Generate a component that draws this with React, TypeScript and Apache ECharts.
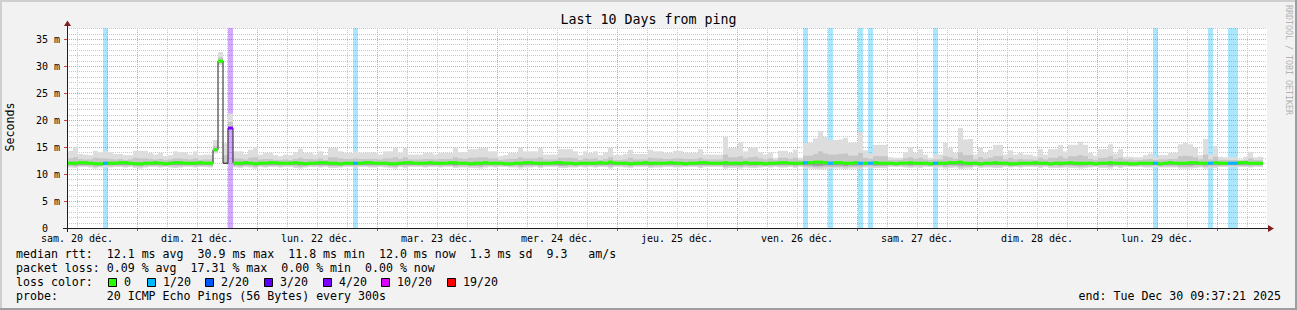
import React, { useEffect, useRef } from 'react';
import * as echarts from 'echarts';

// ---------- data (hourly buckets, values in ms) ----------
const dayLabels = [
  'sam. 20 déc.', 'dim. 21 déc.', 'lun. 22 déc.', 'mar. 23 déc.', 'mer. 24 déc.',
  'jeu. 25 déc.', 'ven. 26 déc.', 'sam. 27 déc.', 'dim. 28 déc.', 'lun. 29 déc.',
];

const median = [
  12.0,12.0,12.1,12.1,12.0,11.9,11.9,12.0,12.0,12.0,12.1,12.1,12.0,11.9,11.9,12.0,12.0,12.1,12.0,11.9,12.0,12.1,12.1,12.0,
  12.0,12.0,12.1,12.0,12.0,14.5,30.9,12.0,18.5,12.0,12.0,12.1,12.0,11.9,12.0,12.0,12.1,12.1,12.0,12.0,12.0,12.1,12.0,11.9,
  12.0,12.0,12.1,12.1,12.0,12.0,11.9,12.0,12.0,12.0,12.0,12.1,12.1,12.0,12.0,12.0,11.9,11.9,12.0,12.1,12.1,12.0,12.0,12.0,
  12.1,12.0,12.0,12.0,12.1,12.1,12.0,12.0,11.9,12.0,12.0,12.1,12.0,12.0,12.0,11.9,11.9,12.0,12.0,12.1,12.1,12.0,12.0,12.0,
  12.0,12.1,12.1,12.0,12.0,11.9,12.0,12.0,12.0,12.0,12.1,12.0,12.2,12.0,12.0,12.0,11.9,12.0,12.0,12.1,12.0,12.0,12.0,12.0,
  12.1,12.0,12.0,11.9,12.0,12.0,12.1,12.1,12.0,12.0,12.0,12.1,12.0,12.0,12.0,12.1,12.0,12.0,12.0,11.9,12.0,12.0,12.1,12.1,
  12.0,12.0,12.0,12.1,12.1,12.2,12.2,12.1,12.0,12.1,12.1,12.0,12.0,12.1,12.0,12.0,12.0,12.1,12.0,12.0,12.0,11.9,12.0,12.0,
  12.1,12.0,12.0,12.0,11.9,12.0,12.0,12.0,12.1,12.1,12.2,12.0,12.0,12.0,11.9,12.0,12.0,12.1,12.0,12.0,11.9,11.9,12.0,12.0,
  12.0,12.1,12.0,12.0,11.9,12.0,12.0,12.0,12.1,12.0,12.0,12.0,12.0,11.9,12.0,12.0,12.1,12.0,12.0,12.0,11.9,11.9,12.0,12.0,
  12.0,12.0,11.9,12.0,12.1,12.0,12.0,12.0,12.1,12.1,12.0,12.0,12.0,12.1,12.0,12.0,12.0,12.0,12.1,12.1,12.0,12.0,12.0,
];

const smokeLo = [
  11.2,11.1,11.3,11.3,11.2,11.0,11.2,11.3,11.2,11.3,11.3,11.2,11.3,11.1,11.0,11.2,11.3,11.3,11.2,11.3,11.2,11.1,11.2,11.3,
  11.3,11.2,11.3,11.3,11.2,13.8,30.2,11.8,18.2,11.2,11.1,11.3,11.2,11.0,11.3,11.2,11.3,11.3,11.2,11.3,11.3,11.1,11.0,11.2,
  11.3,11.3,11.2,11.3,11.1,11.1,11.2,11.3,11.3,11.2,11.3,11.3,11.2,11.2,11.3,11.2,11.1,11.0,11.3,11.1,11.3,11.3,11.3,11.2,
  11.3,11.3,11.2,11.3,11.3,11.1,11.2,11.2,11.1,11.1,11.0,11.2,11.3,11.2,11.3,11.3,11.2,11.2,11.0,11.2,11.2,11.3,11.1,11.3,
  11.3,11.3,11.1,11.1,11.2,11.2,11.3,11.2,11.3,11.2,11.3,11.3,11.0,11.3,11.3,11.2,11.1,11.3,11.3,11.3,11.1,11.2,11.2,11.3,
  11.3,11.2,11.2,11.3,11.3,11.3,11.1,11.3,11.3,11.3,11.3,11.0,11.1,11.1,11.0,11.2,11.1,11.1,11.2,11.3,11.2,11.3,11.2,11.2,
  11.3,11.1,11.3,11.0,11.0,10.9,10.8,10.9,11.0,11.0,11.0,10.9,11.0,11.0,10.9,11.2,11.2,11.1,11.1,11.1,11.3,11.3,11.3,11.2,
  11.1,11.2,11.1,11.3,11.3,11.2,11.2,11.0,11.1,11.2,10.9,11.0,11.0,11.3,11.1,11.2,11.2,11.1,11.1,11.3,11.2,11.3,11.2,11.3,
  11.3,11.3,11.1,11.3,11.1,11.1,11.1,11.2,11.1,11.1,11.0,11.1,11.2,11.3,11.1,11.1,11.0,11.3,11.1,11.3,11.3,11.3,11.3,11.2,
  11.2,11.3,11.2,11.2,11.2,11.2,11.0,11.0,11.0,11.1,11.2,11.0,11.2,11.1,11.3,11.3,11.3,11.3,11.3,11.3,11.2,11.3,11.3,
];

const midLo = [
  11.4,11.4,11.5,11.5,11.4,11.3,11.4,11.5,11.4,11.5,11.5,11.4,11.5,11.4,11.3,11.4,11.5,11.5,11.4,11.5,11.4,11.4,11.4,11.5,
  11.5,11.4,11.5,11.5,11.4,14.1,30.5,11.9,18.3,11.4,11.4,11.5,11.4,11.3,11.5,11.4,11.5,11.5,11.4,11.5,11.5,11.4,11.3,11.4,
  11.5,11.5,11.4,11.5,11.4,11.4,11.4,11.5,11.5,11.4,11.5,11.5,11.4,11.4,11.5,11.4,11.4,11.3,11.5,11.4,11.5,11.5,11.5,11.4,
  11.5,11.5,11.4,11.5,11.5,11.4,11.4,11.4,11.4,11.4,11.3,11.4,11.5,11.4,11.5,11.5,11.4,11.4,11.3,11.4,11.4,11.5,11.4,11.5,
  11.5,11.5,11.4,11.4,11.4,11.4,11.5,11.4,11.5,11.4,11.5,11.5,11.3,11.5,11.5,11.4,11.4,11.5,11.5,11.5,11.4,11.4,11.4,11.5,
  11.5,11.4,11.4,11.5,11.5,11.5,11.4,11.5,11.5,11.5,11.5,11.3,11.4,11.4,11.3,11.4,11.4,11.4,11.4,11.5,11.4,11.5,11.4,11.4,
  11.5,11.4,11.5,11.3,11.3,11.2,11.2,11.3,11.3,11.3,11.3,11.2,11.3,11.3,11.2,11.4,11.4,11.4,11.4,11.4,11.5,11.5,11.5,11.4,
  11.4,11.4,11.4,11.5,11.5,11.4,11.4,11.3,11.4,11.4,11.2,11.3,11.3,11.5,11.4,11.4,11.4,11.4,11.4,11.5,11.4,11.5,11.4,11.5,
  11.5,11.5,11.4,11.5,11.4,11.4,11.4,11.4,11.4,11.4,11.3,11.4,11.4,11.5,11.4,11.4,11.3,11.5,11.4,11.5,11.5,11.5,11.5,11.4,
  11.4,11.5,11.4,11.4,11.4,11.4,11.3,11.3,11.3,11.4,11.4,11.3,11.4,11.4,11.5,11.5,11.5,11.5,11.5,11.5,11.4,11.5,11.5,
];

const darkLo = [
  11.7,11.6,11.7,11.7,11.7,11.6,11.6,11.7,11.7,11.7,11.7,11.7,11.7,11.6,11.6,11.7,11.7,11.7,11.7,11.6,11.7,11.7,11.7,11.7,
  11.7,11.7,11.7,11.7,11.7,14.3,30.7,11.9,18.4,11.7,11.6,11.7,11.7,11.6,11.7,11.7,11.7,11.7,11.7,11.7,11.7,11.7,11.6,11.6,
  11.7,11.7,11.7,11.7,11.6,11.6,11.6,11.7,11.7,11.7,11.7,11.7,11.7,11.7,11.7,11.7,11.6,11.6,11.7,11.7,11.7,11.7,11.7,11.7,
  11.7,11.7,11.7,11.7,11.7,11.6,11.7,11.7,11.6,11.6,11.6,11.7,11.7,11.7,11.7,11.6,11.6,11.7,11.6,11.7,11.7,11.7,11.6,11.7,
  11.7,11.7,11.6,11.6,11.7,11.6,11.7,11.7,11.7,11.7,11.7,11.7,11.7,11.7,11.7,11.7,11.6,11.7,11.7,11.7,11.6,11.7,11.7,11.7,
  11.7,11.7,11.7,11.6,11.7,11.7,11.7,11.7,11.7,11.7,11.7,11.6,11.6,11.6,11.6,11.7,11.6,11.6,11.7,11.6,11.7,11.7,11.7,11.7,
  11.7,11.6,11.7,11.6,11.6,11.5,11.5,11.6,11.6,11.6,11.6,11.5,11.6,11.6,11.6,11.7,11.7,11.6,11.6,11.6,11.7,11.6,11.7,11.7,
  11.6,11.7,11.7,11.7,11.6,11.7,11.7,11.6,11.7,11.7,11.6,11.6,11.6,11.7,11.6,11.7,11.7,11.7,11.7,11.7,11.6,11.6,11.7,11.7,
  11.7,11.7,11.7,11.7,11.6,11.7,11.6,11.7,11.7,11.6,11.6,11.6,11.7,11.6,11.7,11.7,11.6,11.7,11.7,11.7,11.6,11.6,11.7,11.7,
  11.7,11.7,11.6,11.7,11.7,11.7,11.6,11.6,11.6,11.7,11.7,11.6,11.7,11.7,11.7,11.7,11.7,11.7,11.7,11.7,11.7,11.7,11.7,
];

const midHi = [
  12.9,13.1,12.8,12.7,12.7,13.0,12.9,12.9,12.8,12.7,12.8,12.6,12.7,13.0,12.9,12.9,12.8,12.7,12.8,12.6,12.7,12.9,12.9,12.8,
  12.7,12.9,12.6,12.7,12.7,15.2,31.6,13.5,19.6,12.9,12.9,12.7,13.0,13.1,12.7,12.8,12.8,12.6,12.6,12.7,12.6,12.8,13.0,12.8,
  12.8,12.7,12.9,12.6,13.1,13.1,12.9,12.8,12.8,12.9,12.8,12.8,12.8,12.8,12.7,12.9,12.9,13.1,12.8,13.1,12.7,12.7,12.7,12.8,
  12.8,12.7,12.8,12.8,12.8,13.1,12.9,12.8,13.0,13.0,13.1,13.1,12.9,12.9,12.6,12.7,12.8,12.8,13.1,12.9,12.9,12.9,13.1,12.7,
  12.7,12.7,13.0,13.0,13.0,12.9,12.6,12.9,12.8,12.9,12.6,12.8,13.1,12.6,12.6,12.7,13.0,12.7,12.7,12.7,13.0,12.9,12.9,12.8,
  12.8,12.9,12.9,12.8,12.8,12.8,13.0,12.7,12.7,12.7,12.7,13.6,13.1,13.1,13.3,12.9,13.1,13.2,12.9,12.7,12.9,12.6,13.0,13.0,
  12.8,13.0,12.6,13.4,13.4,13.7,14.2,13.8,13.6,13.6,13.7,13.8,13.4,13.4,13.9,13.0,12.8,13.3,13.3,13.3,12.6,12.6,12.6,12.9,
  13.1,12.8,13.0,12.7,12.6,12.7,12.7,13.3,13.1,12.8,14.0,13.5,13.5,12.7,13.1,12.8,13.0,13.3,13.3,12.7,13.0,12.7,12.8,12.7,
  12.7,12.6,13.0,12.7,13.0,13.0,13.3,12.9,13.3,13.3,13.5,13.3,12.8,12.6,13.0,13.0,13.3,12.8,13.0,12.7,12.7,12.6,12.6,12.7,
  12.8,12.6,12.7,12.7,12.8,12.8,13.3,13.4,13.3,13.1,12.7,13.6,12.7,13.2,12.6,12.6,12.6,12.6,12.5,12.6,12.9,12.6,12.6,
];

const smokeHi = [
  14.3,15.0,13.7,13.6,13.5,14.3,14.0,14.3,14.0,13.7,13.7,13.5,13.5,14.3,14.3,14.3,13.9,13.6,13.9,13.3,13.5,14.2,14.0,14.0,
  13.6,14.2,13.5,13.6,13.6,16.3,32.6,15.7,21.2,14.2,14.2,13.7,14.5,15.0,13.6,13.9,13.9,13.5,13.3,13.6,13.5,14.0,14.7,13.9,
  13.9,13.6,14.2,13.5,14.8,14.8,14.2,13.9,13.9,14.2,13.9,14.0,14.0,13.9,13.6,14.2,14.2,14.9,13.9,14.9,13.6,13.6,13.6,13.9,
  13.9,13.6,13.9,13.9,13.9,14.9,14.0,14.0,14.6,14.6,14.8,14.8,14.2,14.2,13.3,13.5,13.9,13.9,14.9,14.2,14.2,14.2,14.8,13.6,
  13.6,13.6,14.6,14.6,14.6,14.2,13.5,14.2,13.9,14.2,13.5,14.0,14.9,13.5,13.5,13.7,14.5,13.7,13.7,13.7,14.5,14.2,14.2,13.9,
  13.9,14.3,14.3,13.9,13.9,13.9,14.6,13.6,13.6,13.6,13.6,16.9,14.8,14.8,15.9,14.2,14.9,15.0,14.0,13.6,14.0,13.0,14.3,14.3,
  13.9,14.5,13.0,15.8,15.8,16.6,18.0,16.9,16.3,16.3,16.4,16.7,15.8,15.8,17.8,14.4,13.8,15.4,15.4,15.4,13.1,13.0,13.0,14.0,
  15.0,13.9,14.6,13.6,13.0,13.6,13.6,15.8,14.8,13.9,18.5,16.4,16.5,13.6,14.9,13.9,14.5,15.4,15.4,13.6,14.4,13.6,13.9,13.6,
  13.6,13.3,14.6,13.6,14.6,14.6,15.4,14.2,15.4,15.4,16.0,15.4,13.9,13.4,14.6,14.6,15.5,13.8,14.6,13.2,13.2,13.1,13.1,13.5,
  13.8,13.1,13.5,13.5,13.9,13.9,15.5,15.8,15.5,14.9,13.5,16.5,13.6,15.2,13.2,13.1,13.1,13.1,12.7,13.2,14.1,13.1,13.2,
];

// hours (buckets) with packet loss, and the loss class of each
const lossBuckets = [7, 32, 57, 147, 152, 158, 160, 173, 217, 228, 232, 233];
const lossClass = [1, 4, 1, 1, 1, 1, 1, 1, 1, 1, 1, 1];
const bandGaps = [31];

const lossLegend = ['0', '1/20', '2/20', '3/20', '4/20', '10/20', '19/20'];
const lossColors = ['#26ff00', '#00b8ff', '#0059ff', '#5e00ff', '#7e00ff', '#dd00ff', '#ff0000'];

const statLines = [
  'median rtt:  12.1 ms avg  30.9 ms max  11.8 ms min  12.0 ms now  1.3 ms sd  9.3   am/s',
  'packet loss: 0.09 % avg  17.31 % max  0.00 % min  0.00 % now',
  'loss color:',
  'probe:       20 ICMP Echo Pings (56 Bytes) every 300s',
];
const endText = 'end: Tue Dec 30 09:37:21 2025';
const titleText = 'Last 10 Days from ping';

// ---------- layout / style constants ----------
const FONT = 'DejaVu Sans Mono';
const X_MAX = 240; // hours shown
const Y_MAX = 37.04;
const BUCKET0 = 0.2; // first bucket start (hours from left edge)
const BAND_HALF = 0.28;
const MINOR = '#c8c8c8';
const MAJOR = '#e69c9c';
const X_GRID_FIRST = 2; // hours
const X_GRID_STEP = 6;
const X_MAJOR_FIRST = 14;
const X_MAJOR_STEP = 24;
const Y_MAJOR_STEP = 5;
const legendBoxX = [108, 147, 205, 264, 323, 381, 447];

const nb = (s: string) => s.replace(/ /g, '\u00a0');

function txt(x: number, y: number, text: string, size: number, extra: any = {}) {
  const align = extra.align || 'left';
  const st: any = {
    text: nb(text), fontFamily: FONT, fontSize: size, fill: extra.fill || '#000',
    align, textAlign: align, verticalAlign: 'middle', textVerticalAlign: 'middle',
  };
  return { type: 'text', x, y, rotation: extra.rotation || 0, silent: true, z: 100, style: st };
}

function rectRender(fillFor: (api: any) => string) {
  return (params: any, api: any) => {
    const x0 = api.value(0);
    const lo = api.value(1);
    const hi = api.value(2);
    const a = api.coord([x0, hi]);
    const b = api.coord([x0 + 1, lo]);
    return {
      type: 'rect',
      shape: { x: a[0], y: a[1], width: b[0] - a[0], height: b[1] - a[1] },
      style: { fill: fillFor(api) },
    };
  };
}

function buildOption() {
  const n = median.length;
  const lightData = median.map((_, i) => [BUCKET0 + i, smokeLo[i], smokeHi[i]]);
  const midData = median.map((_, i) => [BUCKET0 + i, midLo[i], midHi[i]]);
  const darkData = median.map((m, i) => [BUCKET0 + i, darkLo[i], m]);
  const lossData = lossBuckets.map((b, k) => [BUCKET0 + b, 0, Y_MAX, lossClass[k]]);
  const bandData: number[][] = [];
  median.forEach((m, i) => {
    if (bandGaps.indexOf(i) >= 0) return;
    const li = lossBuckets.indexOf(i);
    const cls = li >= 0 ? lossClass[li] : 0;
    bandData.push([BUCKET0 + i, m - BAND_HALF, m + BAND_HALF, cls]);
  });
  const linePts = median.map((m, i) => [BUCKET0 + i, m]);
  linePts.push([BUCKET0 + n, median[n - 1]]);

  // grid line positions (axis ticks)
  const vLines: number[][] = [];
  for (let h = X_GRID_FIRST; h < X_MAX; h += X_GRID_STEP) {
    vLines.push([h, (h - X_MAJOR_FIRST) % X_MAJOR_STEP === 0 ? 1 : 0]);
  }
  const hLines: number[][] = [];
  for (let v = 1; v <= Math.floor(Y_MAX); v += 1) {
    hLines.push([v, v % Y_MAJOR_STEP === 0 ? 1 : 0]);
  }

  const graphics: any[] = [
    { type: 'rect', shape: { x: 0, y: 0, width: 1297, height: 2 }, style: { fill: '#cfcfcf' }, silent: true },
    { type: 'rect', shape: { x: 0, y: 0, width: 2, height: 310 }, style: { fill: '#cfcfcf' }, silent: true },
    { type: 'rect', shape: { x: 0, y: 308, width: 1297, height: 2 }, style: { fill: '#9e9e9e' }, silent: true },
    { type: 'rect', shape: { x: 1295, y: 0, width: 2, height: 310 }, style: { fill: '#9e9e9e' }, silent: true },
    { type: 'line', z: 100, silent: true, shape: { x1: 63, y1: 228.5, x2: 1270, y2: 228.5 }, style: { stroke: '#1f1f1f', lineWidth: 1 } },
    { type: 'line', z: 100, silent: true, shape: { x1: 67.5, y1: 232, x2: 67.5, y2: 24 }, style: { stroke: '#1f1f1f', lineWidth: 1 } },
    { type: 'polygon', z: 101, silent: true, shape: { points: [[1268, 225], [1274, 228.5], [1268, 232]] }, style: { fill: '#7f1f1f' } },
    { type: 'polygon', z: 101, silent: true, shape: { points: [[64, 26], [67.5, 20.5], [71, 26]] }, style: { fill: '#7f1f1f' } },
    txt(648.5, 19, titleText, 13.3, { align: 'center' }),
    txt(10, 127, 'Seconds', 11.6, { align: 'center', rotation: Math.PI / 2 }),
    txt(1288.5, 60, 'RRDTOOL / TOBI OETIKER', 8.3, { align: 'center', rotation: -Math.PI / 2, fill: '#b3b3b3' }),
    txt(16, 254, statLines[0], 11.6),
    txt(16, 268, statLines[1], 11.6),
    txt(16, 282, statLines[2], 11.6),
    txt(16, 296, statLines[3], 11.6),
    txt(1281, 296, endText, 11.6, { align: 'right' }),
  ];
  lossLegend.forEach((lab, k) => {
    const bx = legendBoxX[k];
    graphics.push({
      type: 'rect', z: 100, silent: true,
      shape: { x: bx + 0.5, y: 278.5, width: 8, height: 8 },
      style: { fill: lossColors[k], stroke: '#000', lineWidth: 1 },
    });
    graphics.push(txt(bx + 16, 282, lab, 11.6));
  });

  return {
    animation: false,
    backgroundColor: '#f2f2f2',
    grid: { left: 67, top: 28, width: 1200, height: 200, show: true, backgroundColor: '#ffffff', borderWidth: 0 },
    xAxis: {
      type: 'value', min: 0, max: X_MAX, interval: 2,
      axisLine: { show: false }, axisTick: { show: false }, splitLine: { show: false },
      axisLabel: {
        margin: 5, fontFamily: FONT, fontSize: 10, color: '#000', hideOverlap: false,
        formatter: (v: number) => {
          const h = Math.round(v);
          if ((h - 2) % 24 !== 0) return '';
          const d = (h - 2) / 24;
          return d >= 0 && d < dayLabels.length ? nb(dayLabels[d]) : '';
        },
      },
    },
    yAxis: {
      type: 'value', min: 0, max: Y_MAX, interval: 1,
      axisLine: { show: false }, axisTick: { show: false }, splitLine: { show: false },
      axisLabel: {
        margin: 7, fontFamily: FONT, fontSize: 10, color: '#000',
        formatter: (v: number) => {
          const r = Math.round(v);
          if (Math.abs(v - r) > 1e-6 || r % 5 !== 0) return '';
          return r === 0 ? '0\u00a0\u00a0' : r + '\u00a0m';
        },
      },
    },
    series: [
      {
        type: 'custom', name: 'vgrid', z: 1, silent: true, data: vLines.map((d) => [d[0], 0, d[1]]),
        encode: { x: 0, y: 1 },
        renderItem: (params: any, api: any) => {
          const h = api.value(0);
          const major = api.value(2) === 1;
          const p0 = api.coord([h, 0]);
          const p1 = api.coord([h, Y_MAX]);
          const x = Math.round(p0[0]) + 0.5;
          const color = major ? MAJOR : MINOR;
          const children: any[] = [
            { type: 'line', shape: { x1: x, y1: p1[1], x2: x, y2: p0[1] }, style: { stroke: color, lineWidth: 1, lineDash: [1, 1] } },
          ];
          if (major) {
            children.push({ type: 'line', shape: { x1: x, y1: p0[1], x2: x, y2: p0[1] + 3 }, style: { stroke: '#d04040', lineWidth: 1 } });
          }
          return { type: 'group', children };
        },
      },
      {
        type: 'custom', name: 'hgrid', z: 1, silent: true, data: hLines.map((d) => [0, d[0], d[1]]),
        encode: { x: 0, y: 1 },
        renderItem: (params: any, api: any) => {
          const v = api.value(1);
          const major = api.value(2) === 1;
          const p0 = api.coord([0, v]);
          const p1 = api.coord([X_MAX, v]);
          const y = Math.round(p0[1]) + 0.5;
          const color = major ? MAJOR : MINOR;
          const children: any[] = [
            { type: 'line', shape: { x1: p0[0], y1: y, x2: p1[0], y2: y }, style: { stroke: color, lineWidth: 1, lineDash: [1, 1] } },
          ];
          if (major) {
            children.push({ type: 'line', shape: { x1: p0[0] - 3, y1: y, x2: p0[0], y2: y }, style: { stroke: '#d04040', lineWidth: 1 } });
          }
          return { type: 'group', children };
        },
      },
      {
        type: 'custom', name: 'loss', z: 1, silent: true, data: lossData,
        encode: { x: 0, y: [1, 2] },
        renderItem: rectRender((api) => lossColors[api.value(3)] + '55'),
      },
      {
        type: 'custom', name: 'smoke outer', z: 2, silent: true, data: lightData,
        encode: { x: 0, y: [1, 2] }, renderItem: rectRender(() => '#dddddd'),
      },
      {
        type: 'custom', name: 'smoke mid', z: 2, silent: true, data: midData,
        encode: { x: 0, y: [1, 2] }, renderItem: rectRender(() => '#c6c6c6'),
      },
      {
        type: 'custom', name: 'smoke core', z: 2, silent: true, data: darkData,
        encode: { x: 0, y: [1, 2] }, renderItem: rectRender(() => '#9c9c9c'),
      },
      {
        type: 'line', name: 'median', z: 3, silent: true, step: 'end', data: linePts,
        symbol: 'none', showSymbol: false, lineStyle: { color: '#202020', width: 1 },
      },
      {
        type: 'custom', name: 'median loss', z: 4, silent: true, data: bandData,
        encode: { x: 0, y: [1, 2] },
        renderItem: rectRender((api) => lossColors[api.value(3)]),
      },
    ],
    graphic: { elements: graphics },
  };
}

export default function App() {
  const ref = useRef<HTMLDivElement>(null);
  useEffect(() => {
    const chart = echarts.init(ref.current!, null, { renderer: 'svg' });
    chart.setOption(buildOption() as any);
    return () => chart.dispose();
  }, []);
  return <div ref={ref} style={{ position: 'absolute', left: 0, top: 0, width: 1297, height: 310 }} />;
}
